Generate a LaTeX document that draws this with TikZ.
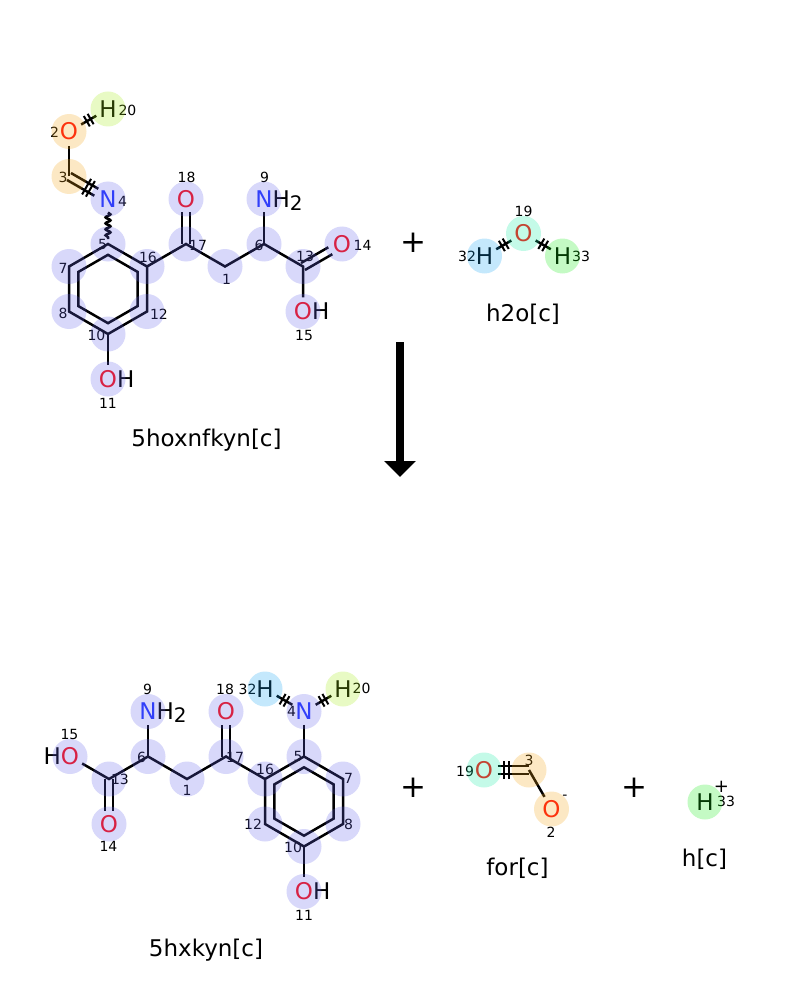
\documentclass[tikz,border=0pt]{standalone}
\usepackage{fontspec}
\setmainfont{DejaVu Sans}
\usetikzlibrary{calc,arrows.meta,decorations.pathmorphing,decorations.markings}
\definecolor{colO}{RGB}{255,13,13}
\definecolor{colN}{RGB}{33,51,255}
\definecolor{hlLav}{RGB}{99,99,235}
\definecolor{hlOrg}{RGB}{245,165,20}
\definecolor{hlYg}{RGB}{163,235,19}
\definecolor{hlBlu}{RGB}{19,163,243}
\definecolor{hlAqua}{RGB}{19,235,163}
\definecolor{hlGrn}{RGB}{19,235,19}
\newcommand{\atomfont}{\fontsize{23}{23}\selectfont}
\newcommand{\idxfont}{\fontsize{14}{14}\selectfont}
\newcommand{\subtwo}{\smash{\raisebox{-3pt}{\fontsize{20}{20}\selectfont 2}}}
% double bond: two lines 4pt either side of the centre line
\newcommand{\dblbond}[3][]{%
  \draw[bond,#1] ($(#2)!4pt!90:(#3)$) -- ($(#3)!4pt!-90:(#2)$);
  \draw[bond,#1] ($(#2)!4pt!-90:(#3)$) -- ($(#3)!4pt!90:(#2)$);}

\begin{document}
\begin{tikzpicture}[x=1pt,y=-1pt,
  bond/.style={line width=2.5pt},
  wavy/.style={decorate,decoration={snake,amplitude=2.4pt,segment length=6pt}},
  hashed/.style={postaction={decorate,decoration={markings,
    mark=at position #1 with {\draw[line width=2pt] (-2.2pt,-6pt) -- (-2.2pt,6pt) (2.2pt,-6pt) -- (2.2pt,6pt);}}}},
  hashed/.default=0.5,
  dhashed/.style={postaction={decorate,decoration={markings,
    mark=at position #1 with {\draw[line width=2pt] (-2.2pt,-9pt) -- (-2.2pt,9pt) (2.2pt,-9pt) -- (2.2pt,9pt);}}}},
  dhashed/.default=0.5,
  atom/.style={circle,inner sep=0pt,outer sep=1.5pt,font=\atomfont},
  atomO/.style={atom,text=colO},
  atomN/.style={atom,text=colN},
  atomH/.style={atom,text=black},
  idx/.style={inner sep=0pt,font=\idxfont},
  halo/.style={fill=#1,fill opacity=0.25},
  plus/.style={inner sep=0pt,font=\fontsize{31}{31}\selectfont},
  molname/.style={anchor=base,inner sep=0pt,font=\fontsize{23}{23}\selectfont},
  rxnarrow/.style={line width=8pt,-{Triangle[width=31pt,length=16pt]}}]
\useasboundingbox (0,0) rectangle (800,1000);

% 5hoxnfkyn[c]
\node[atomO] (a2) at (69,131.5) {O};
\coordinate (a3) at (69,176.5);
\node[atomN] (a4) at (108,199) {N};
\coordinate (a5) at (108,244);
\coordinate (a16) at (147,266.5);
\coordinate (a12) at (147,311.5);
\coordinate (a10) at (108,334);
\coordinate (a8) at (69,311.5);
\coordinate (a7) at (69,266.5);
\coordinate (aR) at (108,289);
\coordinate (a17) at (186,244);
\node[atomO] (a18) at (186,199) {O};
\coordinate (a1) at (225,266.5);
\coordinate (a6) at (264,244);
\node[atomN] (a9) at (264,199) {N\rlap{\color{black}H\subtwo}};
\coordinate (a13) at (303,266.5);
\node[atomO] (a14) at (342,244) {O};
\node[atomO] (a15) at (303,311.5) {O\rlap{\color{black}H}};
\node[atomO] (a11) at (108,379) {O\rlap{\color{black}H}};
\node[atomH] (a20) at (108,109) {H};

\draw[bond] (a3) -- (a2);
\draw[bond,hashed] (a2) -- (a20);
\dblbond[shorten >=13.5pt]{a3}{a4}
\path[dhashed] (a3) -- (a4.center);
\draw[bond,wavy] (a4) -- ($(a5)!5pt!(a4)$);
\draw[bond] (a5) -- (a16) -- (a12) -- (a10) -- (a8) -- (a7) -- cycle;
\draw[bond] ($(aR)!0.76!(a5)$) -- ($(aR)!0.76!(a16)$) -- ($(aR)!0.76!(a12)$)
  -- ($(aR)!0.76!(a10)$) -- ($(aR)!0.76!(a8)$) -- ($(aR)!0.76!(a7)$) -- cycle;
\draw[bond] (a16) -- (a17) -- (a1) -- (a6) -- (a13) -- (a15);
\draw[bond] (a6) -- (a9);
\dblbond[shorten >=13.5pt]{a17}{a18}
\dblbond[shorten >=13.5pt]{a13}{a14}
\draw[bond] (a10) -- (a11);

\foreach \p/\t in {{127.5,110}/20,{54.5,132}/2,{63,177.5}/3,{122.5,201.5}/4,{102.5,244}/5,
  {63,268}/7,{63,313}/8,{96.5,335}/10,{159,314}/12,{148,257}/16,{198,245}/17,
  {186.5,177.5}/18,{226.5,279}/1,{259,245.5}/6,{264.5,177.5}/9,{305,256}/13,
  {362.5,245}/14,{304,335}/15,{108,403}/11}
  \node[idx] (ai\t) at (\p) {\t};

\node[molname] (nameA) at (206.5,446) {5hoxnfkyn[c]};

% h2o[c]
\node[atomO] (w19) at (523.5,233.5) {O};
\node[atomH] (w32) at (484.5,256) {H};
\node[atomH] (w33) at (562.5,256) {H};
\draw[bond,hashed] (w32) -- (w19);
\draw[bond,hashed] (w19) -- (w33);
\foreach \p/\t in {{523.5,211}/19,{467,256}/32,{581,256}/33}
  \node[idx] (wi\t) at (\p) {\t};
\node[molname] (nameW) at (523,321.5) {h2o[c]};

\node[plus] (plusA) at (413,243) {+};

% reaction arrow
\coordinate (arrS) at (400,342);
\coordinate (arrE) at (400,477);
\draw[rxnarrow] (arrS) -- (arrE);

% 5hxkyn[c]
\node[atomN] (b4) at (304,711.5) {N};
\node[atomH] (b32) at (265,689) {H};
\node[atomH] (b20) at (343,689) {H};
\coordinate (b5) at (304,756.5);
\coordinate (b7) at (343,779);
\coordinate (b8) at (343,824);
\coordinate (b10) at (304,846.5);
\coordinate (b12) at (265,824);
\coordinate (b16) at (265,779);
\coordinate (bR) at (304,801.5);
\coordinate (b17) at (226,756.5);
\node[atomO] (b18) at (226,711.5) {O};
\coordinate (b1) at (187,779);
\coordinate (b6) at (148,756.5);
\node[atomN] (b9) at (148,711.5) {N\rlap{\color{black}H\subtwo}};
\coordinate (b13) at (109,779);
\node[atomO] (b14) at (109,824) {O};
\node[atomO] (b15) at (70,756.5) {\llap{\color{black}H}O};
\node[atomO] (b11) at (304,891.5) {O\rlap{\color{black}H}};

\draw[bond,hashed] (b4) -- (b32);
\draw[bond,hashed] (b4) -- (b20);
\draw[bond] (b4) -- (b5);
\draw[bond] (b5) -- (b7) -- (b8) -- (b10) -- (b12) -- (b16) -- cycle;
\draw[bond] ($(bR)!0.76!(b5)$) -- ($(bR)!0.76!(b7)$) -- ($(bR)!0.76!(b8)$)
  -- ($(bR)!0.76!(b10)$) -- ($(bR)!0.76!(b12)$) -- ($(bR)!0.76!(b16)$) -- cycle;
\draw[bond] (b16) -- (b17) -- (b1) -- (b6) -- (b13) -- (b15);
\draw[bond] (b6) -- (b9);
\dblbond[shorten >=13.5pt]{b17}{b18}
\dblbond[shorten >=13.5pt]{b13}{b14}
\draw[bond] (b10) -- (b11);

\foreach \p/\t in {{147.5,689}/9,{69.5,734}/15,{120,779.5}/13,{141.5,757}/6,{187,790}/1,
  {108.5,846.5}/14,{225,689}/18,{247.5,689}/32,{235,757.5}/17,{265,769}/16,
  {253,824}/12,{293,847.5}/10,{298,756.5}/5,{348.5,778.5}/7,{348.5,824}/8,
  {291.5,711.5}/4,{361.5,688.5}/20,{304,915}/11}
  \node[idx] (bi\t) at (\p) {\t};

\node[molname] (nameB) at (206,956) {5hxkyn[c]};

\node[plus] (plusB) at (413,788) {+};

% for[c]
\node[atomO] (f19) at (484,770) {O};
\coordinate (f3) at (529,770);
\node[atomO] (f2) at (551.5,809) {O};
\dblbond[shorten <=13.5pt]{f19}{f3}
\path[dhashed] (f19.center) -- (f3);
\draw[bond] (f3) -- (f2);
\node[idx] (f2q) at (565,797) {-};
\foreach \p/\t in {{465,771}/19,{529,760}/3,{551,832}/2}
  \node[idx] (fi\t) at (\p) {\t};
\node[molname] (nameF) at (517.5,875) {for[c]};

\node[plus] (plusC) at (634,788) {+};

% h[c]
\node[atomH] (p33) at (705,802) {H};
\node[idx] (pi33) at (726,801) {33};
\node[inner sep=0pt,font=\fontsize{18}{18}\selectfont] (p33q) at (721.5,787) {+};
\node[molname] (nameP) at (704.5,866.5) {h[c]};

% highlight halos
\foreach \a in {a4,a5,a7,a8,a10,a12,a16,a17,a18,a1,a6,a9,a13,a14,a15,a11,
  b4,b5,b7,b8,b10,b12,b16,b17,b18,b1,b6,b9,b13,b14,b15,b11}
  \fill[halo=hlLav] (\a) circle[radius=17.5pt];
\foreach \a in {a2,a3,f3,f2}
  \fill[halo=hlOrg] (\a) circle[radius=17.5pt];
\foreach \a in {a20,b20}
  \fill[halo=hlYg] (\a) circle[radius=17.5pt];
\foreach \a in {b32,w32}
  \fill[halo=hlBlu] (\a) circle[radius=17.5pt];
\foreach \a in {w19,f19}
  \fill[halo=hlAqua] (\a) circle[radius=17.5pt];
\foreach \a in {w33,p33}
  \fill[halo=hlGrn] (\a) circle[radius=17.5pt];
\end{tikzpicture}
\end{document}
